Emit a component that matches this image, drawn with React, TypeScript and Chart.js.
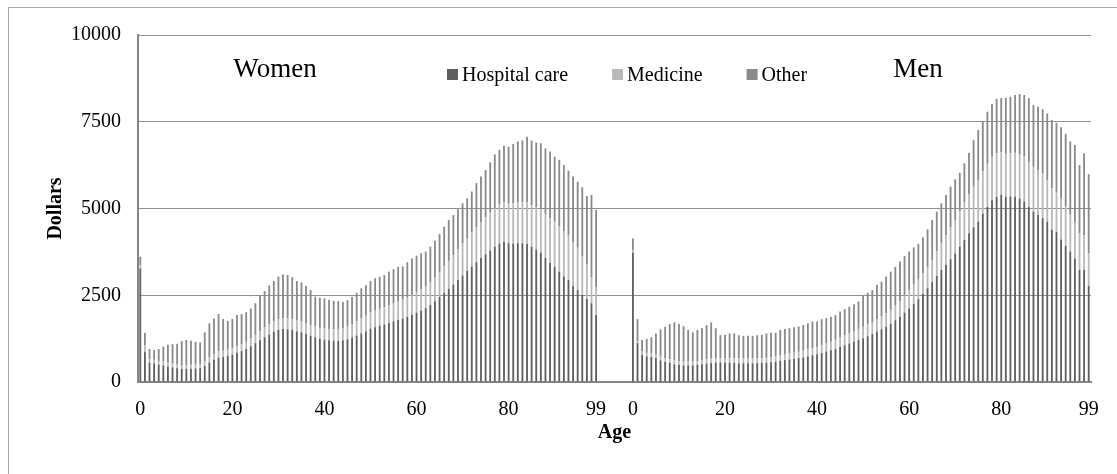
import React, { useEffect, useRef } from "react";
import { Chart, registerables } from "chart.js";

Chart.register(...registerables);

// Categories
const AGES: string[] = Array.from({ length: 100 }, (_, i) => String(i));
const GAP_LABELS: string[] = ["", "", "", "", "", "", ""];
const SHOWN_TICKS: string[] = ["0", "20", "40", "60", "80", "99"];
const Y_TICKS: number[] = [0, 2500, 5000, 7500, 10000];
const SERIES_NAMES: string[] = ["Hospital care", "Medicine", "Other"];
const PANEL_TITLES: string[] = ["Women", "Men"];

// Women, ages 0..99
const WOMEN_HOSPITAL: number[] = [
  3270, 870, 560, 540, 500, 480, 450, 420, 400, 380,
  380, 385, 390, 400, 460, 560, 640, 700, 720, 750,
  790, 840, 890, 950, 1030, 1120, 1200, 1290, 1370, 1440,
  1500, 1530, 1520, 1500, 1460, 1430, 1380, 1330, 1290, 1250,
  1220, 1200, 1190, 1190, 1200, 1230, 1280, 1340, 1400, 1460,
  1540, 1580, 1620, 1660, 1700, 1750, 1790, 1830, 1880, 1940,
  2000, 2060, 2130, 2220, 2330, 2450, 2570, 2690, 2810, 2940,
  3070, 3200, 3330, 3450, 3570, 3680, 3790, 3900, 3990, 4040,
  4000, 3990, 4000, 4000, 3980, 3900, 3810, 3730, 3580, 3440,
  3320, 3180, 3040, 2940, 2760, 2650, 2510, 2400, 2270, 1930,
];
const WOMEN_MEDICINE: number[] = [
  100, 190, 100, 100, 100, 110, 110, 110, 110, 110,
  110, 110, 110, 120, 140, 160, 170, 180, 180, 180,
  180, 190, 200, 210, 220, 240, 260, 280, 290, 300,
  310, 310, 310, 310, 310, 310, 310, 310, 310, 310,
  320, 320, 330, 340, 350, 370, 390, 410, 430, 450,
  470, 480, 490, 500, 510, 520, 530, 540, 550, 560,
  580, 600, 620, 650, 680, 720, 760, 800, 840, 880,
  920, 950, 980, 1010, 1040, 1070, 1090, 1110, 1130, 1140,
  1150, 1160, 1170, 1180, 1190, 1200, 1220, 1240, 1260, 1280,
  1300, 1300, 1300, 1280, 1260, 1220, 1120, 980, 750, 800,
];
const WOMEN_OTHER: number[] = [
  240, 360, 290, 280, 350, 430, 510, 560, 590, 690,
  720, 695, 660, 620, 830, 970, 1020, 1080, 920, 830,
  850, 900, 870, 850, 870, 910, 1030, 1050, 1120, 1170,
  1230, 1260, 1250, 1210, 1140, 1130, 1080, 1010, 860, 870,
  870, 840, 820, 800, 760, 760, 780, 820, 870, 880,
  900, 930, 920, 920, 970, 980, 1000, 960, 1020, 1060,
  1060, 1050, 1010, 1030, 1060, 1090, 1150, 1180, 1160, 1160,
  1160, 1140, 1180, 1270, 1310, 1360, 1450, 1550, 1570, 1630,
  1630, 1710, 1760, 1780, 1900, 1860, 1870, 1910, 1890, 1920,
  1870, 1920, 1910, 1870, 1900, 1900, 1980, 1980, 2370, 2230,
];

// Men, ages 0..99
const MEN_HOSPITAL: number[] = [
  3730, 1120, 780, 740, 720, 690, 620, 580, 550, 510,
  490, 480, 480, 480, 490, 510, 530, 550, 560, 560,
  560, 560, 550, 540, 540, 540, 540, 545, 550, 560,
  570, 590, 610, 630, 650, 670, 690, 710, 740, 770,
  800, 840, 880, 920, 960, 1010, 1060, 1110, 1160, 1210,
  1260, 1320, 1380, 1450, 1520, 1600, 1680, 1780, 1880, 2000,
  2120, 2250, 2390, 2540, 2700, 2880, 3060, 3230, 3380, 3540,
  3700, 3900, 4100, 4290, 4460, 4620, 4850, 5050, 5240, 5340,
  5400, 5340, 5340, 5340, 5290, 5200, 5050, 4910, 4810, 4720,
  4620, 4380, 4330, 4110, 3920, 3760, 3560, 3230, 3230, 2770,
];
const MEN_MEDICINE: number[] = [
  80, 60, 100, 100, 100, 100, 110, 110, 110, 110,
  110, 110, 110, 110, 110, 120, 120, 130, 130, 130,
  130, 130, 130, 140, 140, 140, 140, 140, 140, 140,
  150, 150, 160, 160, 170, 170, 180, 190, 200, 210,
  210, 220, 230, 240, 260, 280, 290, 300, 310, 320,
  330, 340, 350, 360, 370, 385, 400, 420, 450, 490,
  530, 560, 580, 600, 620, 640, 700, 780, 850, 910,
  960, 1020, 1080, 1130, 1170, 1200, 1220, 1240, 1250, 1250,
  1220, 1240, 1250, 1270, 1280, 1300, 1290, 1290, 1300, 1300,
  1200, 1200, 1150, 1180, 1150, 1060, 1050, 1050, 1000, 940,
];
const MEN_OTHER: number[] = [
  330, 630, 330, 400, 470, 610, 790, 900, 1010, 1100,
  1070, 1020, 910, 840, 900, 920, 990, 1040, 860, 660,
  670, 710, 720, 670, 650, 650, 650, 665, 670, 700,
  700, 680, 730, 740, 730, 740, 730, 740, 750, 760,
  730, 750, 730, 720, 710, 740, 750, 760, 770, 790,
  890, 910, 920, 990, 1000, 1055, 1100, 1120, 1140, 1140,
  1110, 1070, 1010, 1030, 1080, 1150, 1150, 1140, 1160, 1180,
  1180, 1110, 1120, 1190, 1340, 1440, 1430, 1500, 1520, 1570,
  1560, 1610, 1630, 1660, 1730, 1770, 1840, 1780, 1820, 1840,
  1920, 1970, 1990, 2050, 2080, 2110, 2220, 1970, 2360, 2280,
];

const COLORS: string[] = ["#5f5f5f", "#b9b9b9", "#8a8a8a"];
const FONT = "'Liberation Serif', 'Times New Roman', serif";

const gapNulls = GAP_LABELS.map(() => null);
const LABELS = [...AGES, ...GAP_LABELS, ...AGES];

const overlayPlugin = {
  id: "overlay",
  afterDraw(chart: any) {
    const { ctx, chartArea } = chart;
    ctx.save();
    // panel titles
    ctx.fillStyle = "#000";
    ctx.font = `27px ${FONT}`;
    ctx.textAlign = "center";
    ctx.textBaseline = "alphabetic";
    ctx.fillText(PANEL_TITLES[0], chartArea.left + 137, 77);
    ctx.fillText(PANEL_TITLES[1], chartArea.left + 780, 77);
    // legend
    ctx.font = `20px ${FONT}`;
    ctx.textAlign = "left";
    let x = chartArea.left + 309;
    chart.data.datasets.forEach((ds: any) => {
      ctx.fillStyle = ds.backgroundColor;
      ctx.fillRect(x, 69, 11, 11);
      ctx.fillStyle = "#000";
      ctx.fillText(ds.label, x + 15, 81);
      x += 15 + ctx.measureText(ds.label).width + 44;
    });
    ctx.restore();
  },
};

export default function App() {
  const canvasRef = useRef<HTMLCanvasElement | null>(null);

  useEffect(() => {
    const canvas = canvasRef.current;
    if (!canvas) return;
    const chart = new Chart(canvas, {
      type: "bar",
      data: {
        labels: LABELS,
        datasets: [
          {
            label: SERIES_NAMES[0],
            data: [...WOMEN_HOSPITAL, ...gapNulls, ...MEN_HOSPITAL],
            backgroundColor: COLORS[0],
          },
          {
            label: SERIES_NAMES[1],
            data: [...WOMEN_MEDICINE, ...gapNulls, ...MEN_MEDICINE],
            backgroundColor: COLORS[1],
          },
          {
            label: SERIES_NAMES[2],
            data: [...WOMEN_OTHER, ...gapNulls, ...MEN_OTHER],
            backgroundColor: COLORS[2],
          },
        ] as any,
      },
      options: {
        responsive: false,
        animation: false,
        devicePixelRatio: 1,
        datasets: { bar: { categoryPercentage: 1, barPercentage: 0.4 } },
        layout: { padding: { left: 0, right: 26, top: 35, bottom: 0 } },
        plugins: {
          legend: { display: false },
          tooltip: { enabled: false },
        },
        scales: {
          x: {
            stacked: true,
            grid: { display: false, drawTicks: false },
            border: { display: true, color: "#868686", width: 2 },
            ticks: {
              autoSkip: false,
              maxRotation: 0,
              minRotation: 0,
              padding: 16,
              color: "#000",
              font: { family: FONT, size: 20 },
              callback: function (this: any, value: any) {
                const l = this.getLabelForValue(value);
                return SHOWN_TICKS.includes(l) ? l : "";
              },
            },
            title: {
              display: true,
              text: "Age",
              color: "#000",
              font: { family: FONT, size: 20, weight: "bold" },
              padding: { top: 0, bottom: 29 },
            },
            afterFit: (scale: any) => {
              scale.height = 92;
            },
          },
          y: {
            stacked: true,
            min: 0,
            max: 10000,
            afterBuildTicks: (scale: any) => {
              scale.ticks = Y_TICKS.map((v) => ({ value: v }));
            },
            grid: { color: "#8f8f8f", lineWidth: 1, drawTicks: false },
            border: { display: true, color: "#868686", width: 2 },
            ticks: {
              padding: 17,
              color: "#000",
              font: { family: FONT, size: 20 },
              callback: (value: any) => String(value),
            },
            title: {
              display: true,
              text: "Dollars",
              color: "#000",
              font: { family: FONT, size: 20, weight: "bold" },
              padding: { top: 44, bottom: 0 },
            },
            afterFit: (scale: any) => {
              scale.width = 138;
            },
          },
        },
      },
      plugins: [overlayPlugin],
    });
    return () => chart.destroy();
  }, []);

  return (
    <div
      style={{
        position: "fixed",
        left: 0,
        top: 0,
        width: 1117,
        height: 474,
        overflow: "hidden",
        background: "#fff",
      }}
    >
      <div
        style={{
          position: "absolute",
          left: 8,
          top: 7,
          width: 1200,
          height: 600,
          border: "1px solid #a6a6a6",
        }}
      />
      <canvas
        ref={canvasRef}
        width={1117}
        height={474}
        style={{ position: "absolute", left: 0, top: 0, width: 1117, height: 474 }}
      />
    </div>
  );
}
